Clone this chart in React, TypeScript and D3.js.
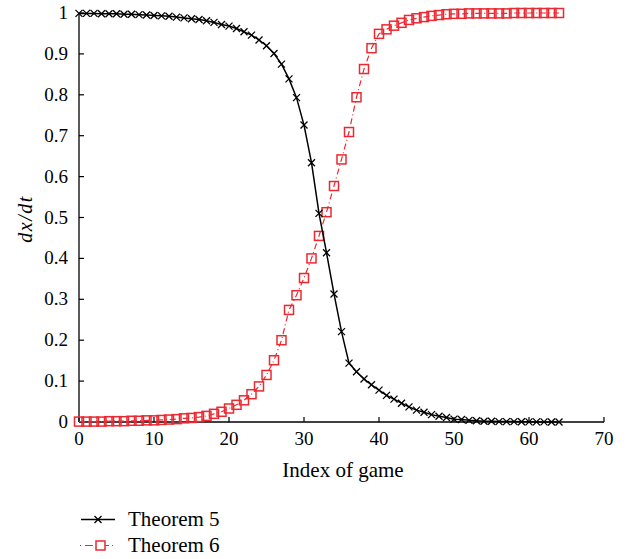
import React from "react";
import * as d3 from "d3";

const xTicks = [0, 10, 20, 30, 40, 50, 60, 70];
const yTicks = [0, 0.1, 0.2, 0.3, 0.4, 0.5, 0.6, 0.7, 0.8, 0.9, 1];
const yTickLabels = ["0", "0.1", "0.2", "0.3", "0.4", "0.5", "0.6", "0.7", "0.8", "0.9", "1"];

const theorem5 = [
  0.999, 0.999, 0.999, 0.998, 0.998, 0.998, 0.997, 0.997, 0.996, 0.995,
  0.994, 0.993, 0.992, 0.990, 0.988, 0.986, 0.984, 0.981, 0.977, 0.972,
  0.968, 0.962, 0.954, 0.946, 0.934, 0.920, 0.901, 0.875, 0.839, 0.793,
  0.726, 0.634, 0.510, 0.414, 0.313, 0.221, 0.144, 0.123, 0.105, 0.091,
  0.078, 0.065, 0.056, 0.046, 0.037, 0.029, 0.024, 0.018, 0.014, 0.011,
  0.007, 0.006, 0.004, 0.003, 0.002, 0.002, 0.001, 0.001, 0.001, 0.0005,
  0.0004, 0.0003, 0.0003, 0.0002, 0.0002,
];

const theorem6 = [
  0.001, 0.001, 0.001, 0.001, 0.002, 0.002, 0.002, 0.003, 0.003, 0.004,
  0.004, 0.005, 0.006, 0.007, 0.009, 0.010, 0.012, 0.015, 0.020, 0.025,
  0.033, 0.042, 0.053, 0.068, 0.087, 0.115, 0.151, 0.200, 0.274, 0.310,
  0.352, 0.400, 0.455, 0.513, 0.577, 0.642, 0.709, 0.794, 0.863, 0.914,
  0.949, 0.960, 0.969, 0.976, 0.983, 0.987, 0.990, 0.993, 0.995, 0.997,
  0.998, 0.998, 0.999, 0.999, 0.999, 0.999, 0.999, 0.999, 1.0, 1.0,
  1.0, 1.0, 1.0, 1.0, 1.0,
];

const seriesNames = ["Theorem 5", "Theorem 6"];
const xLabel = "Index of game";

const RED = "#ec2830";
const FONT = "Liberation Serif, Times New Roman, Tinos, DejaVu Serif, serif";
const txt = { fontFamily: FONT };

function XMark({ cx, cy, s = 3.5 }: { cx: number; cy: number; s?: number }) {
  return (
    <path
      d={`M${cx - s},${cy - s}L${cx + s},${cy + s}M${cx - s},${cy + s}L${cx + s},${cy - s}`}
      stroke="#000"
      strokeWidth={1.3}
      fill="none"
    />
  );
}

function Square({ cx, cy, s = 4.5 }: { cx: number; cy: number; s?: number }) {
  return (
    <rect
      x={cx - s}
      y={cy - s}
      width={2 * s}
      height={2 * s}
      stroke={RED}
      strokeWidth={1.5}
      fill="none"
    />
  );
}

export default function App() {
  const W = 632;
  const H = 559;
  const x = d3.scaleLinear().domain([0, 70]).range([79, 604]);
  const y = d3.scaleLinear().domain([0, 1]).range([422, 13]);

  const line = d3
    .line<number>()
    .x((_, i) => x(i))
    .y((d) => y(d));

  return (
    <svg
      width={W}
      height={H}
      style={{ position: "absolute", left: 0, top: 0, background: "#fff" }}
    >
      <rect width={W} height={H} fill="#fff" />
      {/* axes */}
      <line x1={x(0)} x2={x(0)} y1={y(0)} y2={y(1)} stroke="#000" strokeWidth={1.3} />
      <line x1={x(0)} x2={x(70)} y1={y(0)} y2={y(0)} stroke="#000" strokeWidth={1.3} />
      {xTicks.map((t) => (
        <g key={"xt" + t}>
          <line x1={x(t)} x2={x(t)} y1={y(0)} y2={y(0) - 5} stroke="#000" strokeWidth={1.2} />
          <text x={x(t)} y={y(0) + 23} textAnchor="middle" fontSize={19} style={txt}>
            {t}
          </text>
        </g>
      ))}
      {yTicks.map((t, i) => (
        <g key={"yt" + t}>
          <line x1={x(0)} x2={x(0) + 5} y1={y(t)} y2={y(t)} stroke="#000" strokeWidth={1.2} />
          <text x={x(0) - 11} y={y(t) + 6} textAnchor="end" fontSize={19} style={txt}>
            {yTickLabels[i]}
          </text>
        </g>
      ))}
      <text x={343} y={477} textAnchor="middle" fontSize={21} style={txt}>
        {xLabel}
      </text>
      <text
        transform={`translate(32,219) rotate(-90)`}
        textAnchor="middle"
        fontSize={20}
        fontStyle="italic"
        letterSpacing={1.5}
        style={txt}
      >
        dx/dt
      </text>

      {/* Theorem 6 */}
      <path
        d={line(theorem6) || ""}
        stroke={RED}
        strokeWidth={1.2}
        fill="none"
        strokeDasharray="6,3,1,3"
      />
      {theorem6.map((v, i) => (
        <Square key={"s" + i} cx={x(i)} cy={y(v)} />
      ))}

      {/* Theorem 5 */}
      <path d={line(theorem5) || ""} stroke="#000" strokeWidth={1.5} fill="none" />
      {theorem5.map((v, i) => (
        <XMark key={"x" + i} cx={x(i)} cy={y(v)} />
      ))}

      {/* legend */}
      <line x1={81} x2={115} y1={519.5} y2={519.5} stroke="#000" strokeWidth={1.5} />
      <XMark cx={98} cy={519.5} />
      <text x={128} y={526} fontSize={21} style={txt}>
        {seriesNames[0]}
      </text>
      <line
        x1={80}
        x2={115}
        y1={545.5}
        y2={545.5}
        stroke={RED}
        strokeWidth={1.2}
        strokeDasharray="1,4,8,3"
      />
      <rect x={96} y={541} width={9} height={9} fill="#fff" stroke={RED} strokeWidth={1.5} />
      <text x={128} y={552} fontSize={21} style={txt}>
        {seriesNames[1]}
      </text>
    </svg>
  );
}
